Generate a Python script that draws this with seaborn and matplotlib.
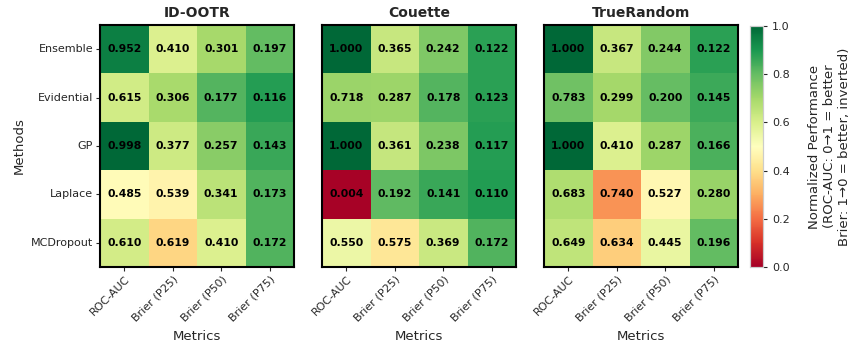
import numpy as np
import pandas as pd
import matplotlib
matplotlib.use("Agg")
import matplotlib.pyplot as plt
import seaborn as sns

methods = ["Ensemble", "Evidential", "GP", "Laplace", "MCDropout"]
metrics = ["ROC-AUC", "Brier (P25)", "Brier (P50)", "Brier (P75)"]
datasets = ["ID-OOTR", "Couette", "TrueRandom"]

id_ootr = [
    [0.952, 0.410, 0.301, 0.197],
    [0.615, 0.306, 0.177, 0.116],
    [0.998, 0.377, 0.257, 0.143],
    [0.485, 0.539, 0.341, 0.173],
    [0.610, 0.619, 0.410, 0.172],
]
couette = [
    [1.000, 0.365, 0.242, 0.122],
    [0.718, 0.287, 0.178, 0.123],
    [1.000, 0.361, 0.238, 0.117],
    [0.004, 0.192, 0.141, 0.110],
    [0.550, 0.575, 0.369, 0.172],
]
true_random = [
    [1.000, 0.367, 0.244, 0.122],
    [0.783, 0.299, 0.200, 0.145],
    [1.000, 0.410, 0.287, 0.166],
    [0.683, 0.740, 0.527, 0.280],
    [0.649, 0.634, 0.445, 0.196],
]
tables = [id_ootr, couette, true_random]

sns.set_style("ticks")
plt.rcParams["font.family"] = ["DejaVu Sans"]

fig = plt.figure(figsize=(8.51, 3.46), dpi=100)
W, H = 851, 346
lefts = [100, 322, 544]
pw, ph = 194, 242
top = 25

cax = fig.add_axes([750 / W, 1 - 267 / H, 13 / W, 241 / H])

for i, (name, tab) in enumerate(zip(datasets, tables)):
    raw = pd.DataFrame(tab, index=methods, columns=metrics)
    # ROC-AUC: higher is better; Brier: lower is better, so invert for colour
    norm = raw.copy()
    norm.iloc[:, 1:] = 1 - norm.iloc[:, 1:]
    ax = fig.add_axes([lefts[i] / W, 1 - (top + ph) / H, pw / W, ph / H])
    sns.heatmap(
        norm, ax=ax, cmap="RdYlGn", vmin=0, vmax=1,
        annot=raw.values, fmt=".3f",
        annot_kws={"fontsize": 7.8, "fontweight": "bold", "color": "black"},
        cbar=(i == 0), cbar_ax=cax if i == 0 else None,
        cbar_kws={"label": "Normalized Performance\n(ROC-AUC: 0\u21921 = better\nBrier: 1\u21920 = better, inverted)"},
    )
    for s in ax.spines.values():
        s.set_visible(True)
        s.set_linewidth(1.5)
        s.set_color("black")
    ax.set_title(name, fontsize=10, fontweight="bold", pad=6)
    ax.set_xlabel("Metrics", fontsize=9.5, color=".15", labelpad=5)
    ax.set_xticklabels(metrics, rotation=45, ha="right", rotation_mode="anchor",
                       fontsize=8, color=".15")
    ax.tick_params(axis="both", length=3, width=0.8, color=".15", pad=2)
    if i == 0:
        ax.set_ylabel("Methods", fontsize=9.5, color=".15", labelpad=4)
        ax.set_yticklabels(methods, rotation=0, fontsize=8, color=".15")
    else:
        ax.set_ylabel("")
        ax.set_yticks([])

cax.tick_params(labelsize=8, length=3, colors=".15")
cax.yaxis.label.set_size(9.5)
cax.yaxis.label.set_color(".15")
cax.yaxis.labelpad = 13
for s in cax.spines.values():
    s.set_visible(True)
    s.set_color("0.8")
    s.set_linewidth(0.8)
cax.set_yticks([0, 0.2, 0.4, 0.6, 0.8, 1.0])

fig.savefig("out.png", dpi=100)
